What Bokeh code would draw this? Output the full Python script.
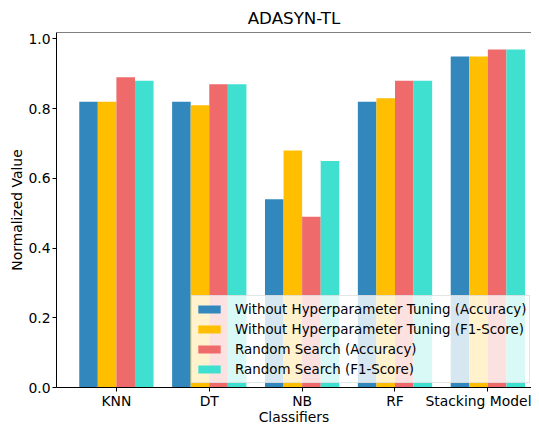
from bokeh.plotting import figure
from bokeh.models import (ColumnDataSource, Range1d, FixedTicker, Legend, LegendItem,
                          Span, NumeralTickFormatter)
from bokeh.embed import file_html
from bokeh.resources import INLINE

categories = ["KNN", "DT", "NB", "RF", "Stacking Model"]
series_names = [
    "Without Hyperparameter Tuning (Accuracy)",
    "Without Hyperparameter Tuning (F1-Score)",
    "Random Search (Accuracy)",
    "Random Search (F1-Score)",
]
no_tuning_acc = [0.82, 0.82, 0.54, 0.82, 0.95]
no_tuning_f1 = [0.82, 0.81, 0.68, 0.83, 0.95]
random_acc = [0.89, 0.87, 0.49, 0.88, 0.97]
random_f1 = [0.88, 0.87, 0.65, 0.88, 0.97]
colors = ["#3288BD", "#FFBE00", "#EF6A6A", "#40E0D0"]
y_ticks = [0.0, 0.2, 0.4, 0.6, 0.8, 1.0]

series = [no_tuning_acc, no_tuning_f1, random_acc, random_f1]
bar_w = 0.2
offsets = [-0.3, -0.1, 0.1, 0.3]

FONT = "DejaVu Sans"
Y_TOP = 1.0185

p = figure(width=531, height=427, output_backend="svg", toolbar_location=None,
           x_range=Range1d(-0.645, 4.47), y_range=Range1d(0, Y_TOP),
           min_border=0, min_border_left=56, min_border_right=0, min_border_top=31,
           min_border_bottom=30, title="ADASYN-TL")
p.outline_line_color = None
p.grid.visible = False
p.background_fill_color = "white"
p.border_fill_color = "white"

p.title.align = "center"
p.title.text_font = FONT
p.title.text_font_size = "16.7px"
p.title.text_font_style = "normal"
p.title.text_color = "black"

items = []
for name, vals, off, col in zip(series_names, series, offsets, colors):
    src = ColumnDataSource(dict(x=[i + off for i in range(len(categories))], top=vals))
    r = p.vbar(x="x", top="top", width=bar_w, bottom=0, source=src,
               fill_color=col, line_color=None)
    items.append(LegendItem(label=name, renderers=[r]))

# top spine
p.add_layout(Span(location=Y_TOP, dimension="width", line_color="black", line_width=1))

xa = p.xaxis[0]
xa.ticker = FixedTicker(ticks=list(range(len(categories))))
xa.major_label_overrides = {i: c for i, c in enumerate(categories)}
xa.axis_label = "Classifiers"
ya = p.yaxis[0]
ya.ticker = FixedTicker(ticks=y_ticks)
ya.axis_label = "Normalized Value"
ya.formatter = NumeralTickFormatter(format="0.0")

for ax in (xa, ya):
    ax.axis_line_color = "black"
    ax.axis_line_width = 1
    ax.major_tick_line_color = "black"
    ax.major_tick_out = 4
    ax.major_tick_in = 0
    ax.minor_tick_line_color = None
    ax.major_label_text_font = FONT
    ax.major_label_text_font_size = "13.9px"
    ax.major_label_text_color = "black"
    ax.axis_label_text_font = FONT
    ax.axis_label_text_font_size = "13.9px"
    ax.axis_label_text_font_style = "normal"
    ax.axis_label_text_color = "black"
xa.major_label_standoff = 1
xa.axis_label_standoff = -3
ya.major_label_standoff = 2
ya.axis_label_standoff = 0

legend = Legend(items=items, location=(135, 4))
legend.label_text_font = FONT
legend.label_text_font_size = "13.4px"
legend.label_text_color = "black"
legend.glyph_width = 28
legend.glyph_height = 10
legend.label_height = 20
legend.label_standoff = 12
legend.spacing = 0
legend.padding = 3
legend.margin = 0
legend.background_fill_color = "white"
legend.background_fill_alpha = 0.8
legend.border_line_color = "#cccccc"
legend.border_line_width = 1
p.add_layout(legend, "center")

open("out.html", "w").write(file_html(p, INLINE))
